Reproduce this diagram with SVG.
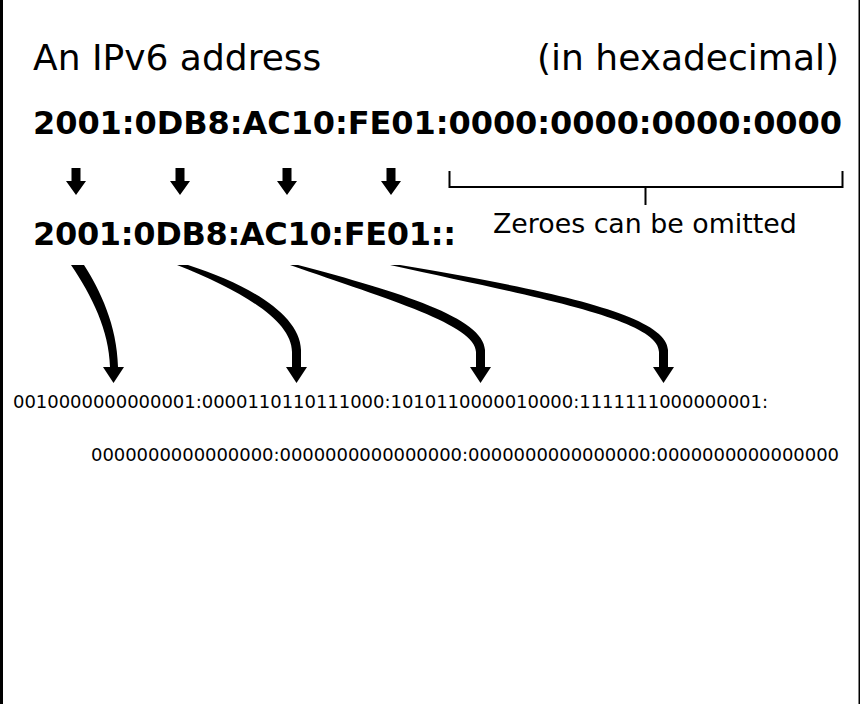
<svg xmlns="http://www.w3.org/2000/svg" width="862" height="704" viewBox="0 0 862 704">
<style>
.t{font-family:"DejaVu Sans","Liberation Sans",sans-serif;fill:#000}
.big{font-size:36px}
.hex{font-size:32px;font-weight:bold}
.note{font-size:26.8px}
.bin{font-size:18px}
.br{fill:none;stroke:#000;stroke-width:2}
.ar{fill:#000;stroke:none}
</style>
<rect x="0" y="0" width="862" height="704" fill="#fff"/>
<rect x="0" y="0" width="3" height="704" fill="#000"/>
<rect x="858.5" y="0" width="1.5" height="704" fill="#000"/>
<g id="title">
<text class="t big" x="33" y="70">An IPv6 address</text>
<text class="t big" x="839" y="70" text-anchor="end">(in hexadecimal)</text>
</g>
<g id="full-address">
<text class="t hex" x="33" y="134" textLength="809" lengthAdjust="spacing">2001:0DB8:AC10:FE01:0000:0000:0000:0000</text>
</g>
<g id="short-address">
<text class="t hex" x="33" y="245" textLength="423" lengthAdjust="spacing">2001:0DB8:AC10:FE01::</text>
</g>
<g id="zeroes-note">
<path class="br" d="M449.5 171 V187 H842.5 V171 M645.5 187 V205"/>
<text class="t note" x="493" y="233">Zeroes can be omitted</text>
</g>
<g id="binary">
<text class="t bin" x="13" y="408" textLength="755" lengthAdjust="spacing">0010000000000001:0000110110111000:1010110000010000:1111111000000001:</text>
<text class="t bin" x="91" y="461" textLength="748" lengthAdjust="spacing">0000000000000000:0000000000000000:0000000000000000:0000000000000000</text>
</g>
<g id="connectors">
<path class="ar" d="M71.5 168 h9 v13 h5.5 l-10 14 l-10 -14 h5.5 z"/>
<path class="ar" d="M175.5 168 h9 v13 h5.5 l-10 14 l-10 -14 h5.5 z"/>
<path class="ar" d="M282.5 168 h9 v13 h5.5 l-10 14 l-10 -14 h5.5 z"/>
<path class="ar" d="M386.5 168 h9 v13 h5.5 l-10 14 l-10 -14 h5.5 z"/>
<path class="ar" d="M71 265 C92 296 109 330 110 367 L103 367 L113.5 383 L124 367 L118 367 C117 325 100 290 84 265 Z"/>
<path class="ar" d="M177 265 C240 290 292 320 292 352 L292 367 L286 367 L296.5 383 L307 367 L301 367 L301 350 C300 315 250 285 188 265 Z"/>
<path class="ar" d="M290 265 C390 300 476 325 476 352 L476 367 L470 367 L480.5 383 L491 367 L485 367 L485 350 C484 318 400 292 298 265 Z"/>
<path class="ar" d="M390 265 C540 298 659 320 659 352 L659 367 L653 367 L663.5 383 L674 367 L668 367 L668 350 C667 316 560 292 400 265 Z"/>
</g>
</svg>
